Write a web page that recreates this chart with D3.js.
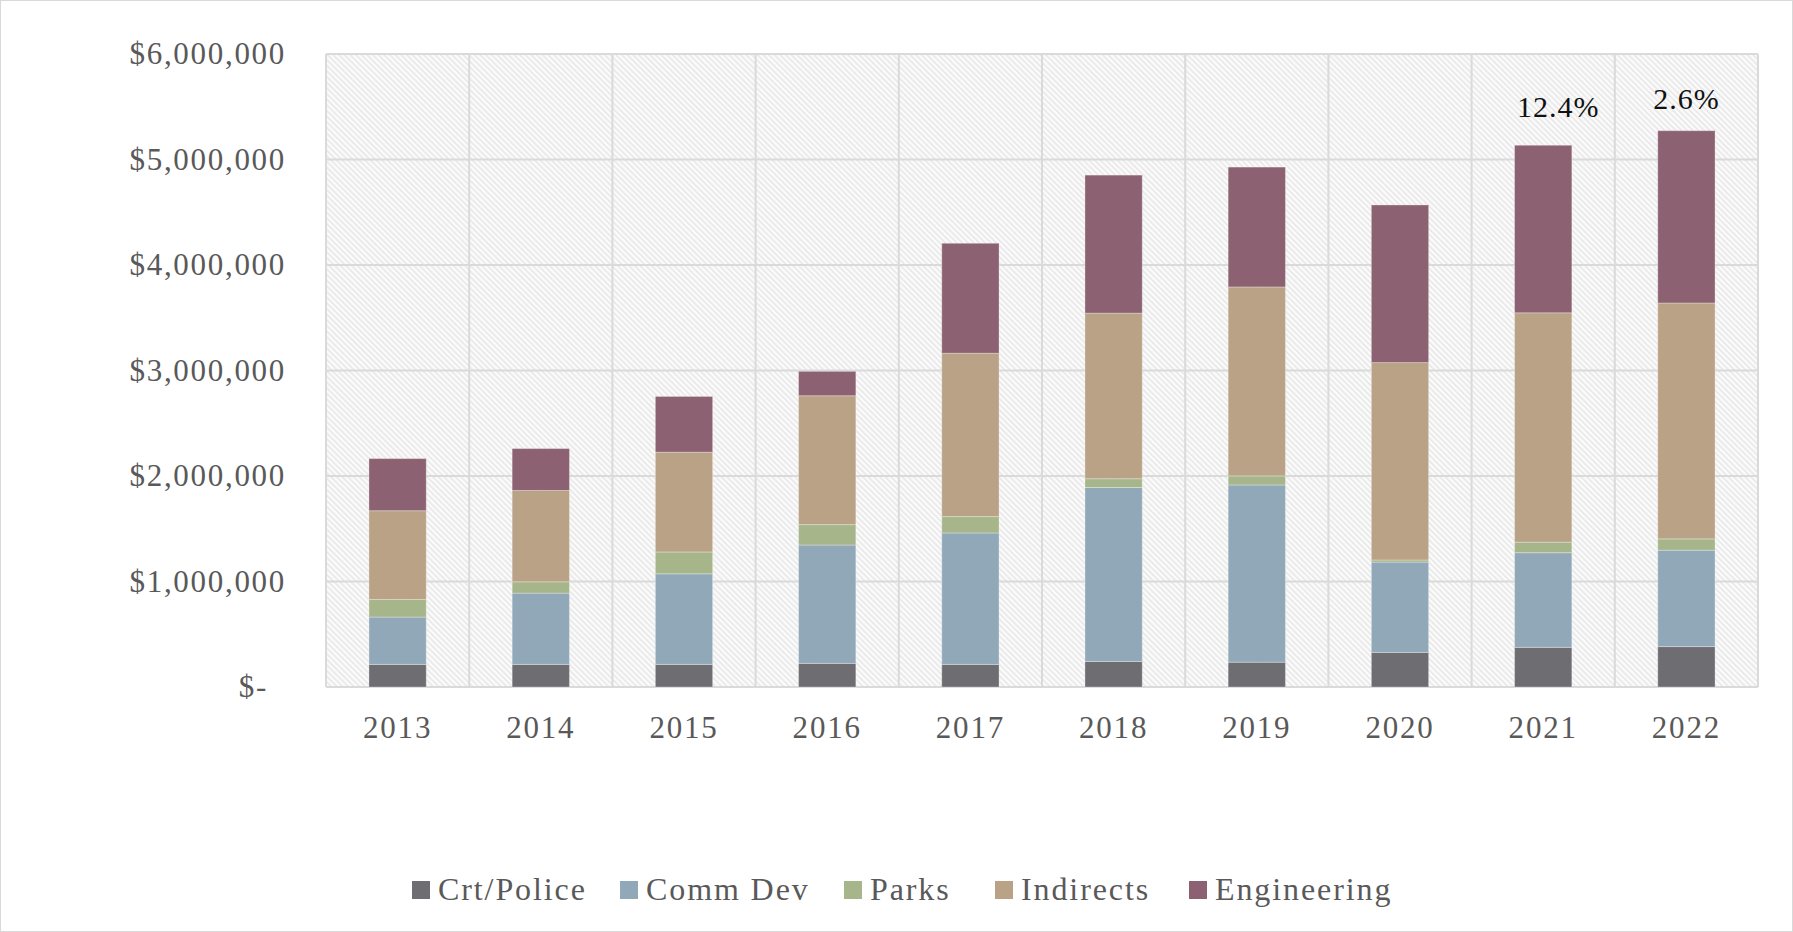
<!DOCTYPE html>
<html lang="en">
<head>
    <meta charset="UTF-8">
    <title>Stacked costs</title>
    <script src="https://d3js.org/d3.v7.min.js"></script>
    <style>
        body { margin: 0; background: #fff; }
        svg { display: block; }
    </style>
</head>
<body>
    <svg width="1793" height="932"></svg>
    <script>
        // Data
        const years = ["2013", "2014", "2015", "2016", "2017", "2018", "2019", "2020", "2021", "2022"];
        const crtPolice   = [214000, 214000, 214000, 224000, 214000, 242000, 235000, 328000, 376000, 383000];
        const commDev     = [449000, 676000, 859000, 1122000, 1246000, 1649000, 1680000, 856000, 897000, 914000];
        const parks       = [166000, 107000, 207000, 193000, 155000, 83000, 86000, 20000, 100000, 107000];
        const indirects   = [842000, 866000, 946000, 1222000, 1549000, 1570000, 1791000, 1871000, 2174000, 2236000];
        const engineering = [494000, 397000, 528000, 231000, 1042000, 1308000, 1136000, 1494000, 1588000, 1633000];
        const seriesNames = ["Crt/Police", "Comm Dev", "Parks", "Indirects", "Engineering"];
        const seriesColors = ["#6e6d72", "#91a8b9", "#a6b68a", "#b9a286", "#8c6171"];
        const yTicks = [0, 1000000, 2000000, 3000000, 4000000, 5000000, 6000000];
        const growthYears = ["2021", "2022"];
        const growthLabels = ["12.4%", "2.6%"];

        const width = 1793;
        const height = 932;
        const margin = {top: 54, right: 35, bottom: 245, left: 326};
        const font = "'Liberation Serif', 'Times New Roman', serif";
        // manual nudges of the growth labels (dx, dy from the bar top)
        const labelNudge = [[15, -28], [0, -22]];

        const rows = years.map((y, i) => ({
            year: y,
            "Crt/Police": crtPolice[i],
            "Comm Dev": commDev[i],
            "Parks": parks[i],
            "Indirects": indirects[i],
            "Engineering": engineering[i]
        }));
        const stacked = d3.stack().keys(seriesNames)(rows);

        const svg = d3.select("svg");

        // chart border
        svg.append("rect")
            .attr("x", 0.5).attr("y", 0.5)
            .attr("width", width - 1).attr("height", height - 1)
            .attr("fill", "#fff").attr("stroke", "#d9d9d9");

        // hatched plot background
        const defs = svg.append("defs");
        const pat = defs.append("pattern")
            .attr("id", "hatch")
            .attr("patternUnits", "userSpaceOnUse")
            .attr("width", 4).attr("height", 4)
            .attr("patternTransform", "rotate(-45)");
        pat.append("rect").attr("width", 4).attr("height", 4).attr("fill", "#fbfbfb");
        pat.append("rect").attr("width", 1.5).attr("height", 4).attr("fill", "#e6e6e6");

        const x = d3.scaleBand()
            .domain(years)
            .range([margin.left, width - margin.right])
            .paddingInner(0.6)
            .paddingOuter(0.3);

        const y = d3.scaleLinear()
            .domain([0, 6000000])
            .range([height - margin.bottom, margin.top]);

        svg.append("rect")
            .attr("x", margin.left).attr("y", margin.top)
            .attr("width", width - margin.right - margin.left)
            .attr("height", height - margin.bottom - margin.top)
            .attr("fill", "url(#hatch)");

        // gridlines
        const grid = svg.append("g").attr("stroke", "#dadada").attr("stroke-width", 2);
        grid.selectAll("line.h")
            .data(yTicks)
            .join("line")
            .attr("x1", margin.left).attr("x2", width - margin.right)
            .attr("y1", d => y(d)).attr("y2", d => y(d));
        const step = x.step();
        grid.selectAll("line.v")
            .data(d3.range(years.length + 1))
            .join("line")
            .attr("x1", i => margin.left + i * step).attr("x2", i => margin.left + i * step)
            .attr("y1", margin.top).attr("y2", height - margin.bottom);

        // bars
        svg.append("g")
            .selectAll("g")
            .data(stacked)
            .join("g")
            .attr("fill", (d, i) => seriesColors[i])
            .selectAll("rect")
            .data(d => d)
            .join("rect")
            .attr("x", d => x(d.data.year))
            .attr("width", x.bandwidth())
            .attr("y", d => y(d[1]))
            .attr("height", d => y(d[0]) - y(d[1]))
            .attr("stroke", "rgba(255,255,255,0.3)")
            .attr("stroke-width", 1);

        // y axis
        const yAxis = svg.append("g")
            .attr("transform", `translate(${margin.left},0)`)
            .call(d3.axisLeft(y)
                .tickValues(yTicks)
                .tickSize(0)
                .tickPadding(40)
                .tickFormat(d => d === 0 ? "$-" : "$" + d3.format(",")(d)));
        yAxis.select(".domain").remove();
        yAxis.selectAll("text")
            .attr("font-family", font)
            .attr("font-size", 31)
            .attr("letter-spacing", 1.7)
            .attr("fill", "#595959")
            .attr("dx", d => d === 0 ? -18 : 0);

        // x axis
        const xAxis = svg.append("g")
            .attr("transform", `translate(0,${height - margin.bottom})`)
            .call(d3.axisBottom(x).tickSize(0).tickPadding(29));
        xAxis.select(".domain").remove();
        xAxis.selectAll("text")
            .attr("font-family", font)
            .attr("font-size", 31)
            .attr("letter-spacing", 1.8)
            .attr("fill", "#595959");

        // growth labels above the last bars
        const totals = new Map(rows.map(r => [r.year, d3.sum(seriesNames, k => r[k])]));
        svg.append("g")
            .selectAll("text")
            .data(growthYears)
            .join("text")
            .attr("x", (d, i) => x(d) + x.bandwidth() / 2 + labelNudge[i][0])
            .attr("y", (d, i) => y(totals.get(d)) + labelNudge[i][1])
            .attr("text-anchor", "middle")
            .attr("font-family", font)
            .attr("font-size", 30)
            .attr("letter-spacing", 1)
            .attr("fill", "#111")
            .text((d, i) => growthLabels[i]);

        // legend
        const legendX = [412, 620, 844, 995, 1189];
        const legend = svg.append("g").attr("transform", "translate(0,890)");
        const item = legend.selectAll("g")
            .data(seriesNames)
            .join("g")
            .attr("transform", (d, i) => `translate(${legendX[i]},0)`);
        item.append("rect")
            .attr("x", 0).attr("y", -9)
            .attr("width", 18).attr("height", 18)
            .attr("fill", (d, i) => seriesColors[i]);
        item.append("text")
            .attr("x", 26).attr("y", 10)
            .attr("font-family", font)
            .attr("font-size", 32)
            .attr("letter-spacing", 1.9)
            .attr("fill", "#595959")
            .text(d => d);
    </script>
</body>
</html>
